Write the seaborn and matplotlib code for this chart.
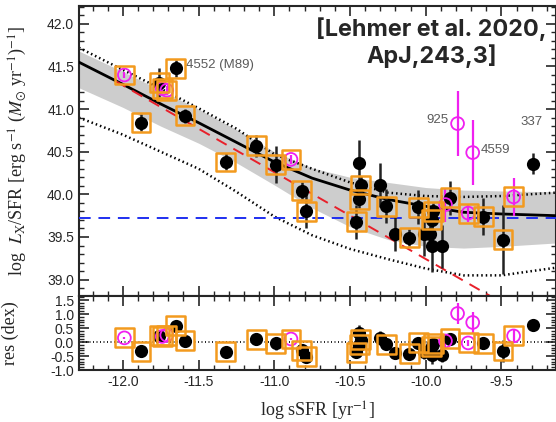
import numpy as np
import pandas as pd
import seaborn as sns
import matplotlib
matplotlib.use('Agg')
import matplotlib.pyplot as plt
from matplotlib.ticker import MultipleLocator, FormatStrFormatter

# galaxies: log sSFR, log Lx/SFR, error, residual, kind (K=black, M=magenta), boxed
gal_x = [-11.99, -11.88, -11.76, -11.74, -11.71, -11.65, -11.59, -11.32, -11.12, -10.99,
         -10.89, -10.82, -10.79, -10.44, -10.43, -10.44, -10.46, -10.30, -10.26, -10.20,
         -10.11, -10.05, -10.01, -9.97, -9.96, -9.89, -9.95, -9.96, -9.84, -9.87,
         -9.79, -9.69, -9.72, -9.62, -9.49, -9.42, -9.29]
gal_y = [41.40, 40.84, 41.31, 41.24, 41.22, 41.48, 40.92, 40.38, 40.57, 40.35,
         40.41, 40.04, 39.80, 40.37, 40.11, 39.94, 39.68, 40.11, 39.86, 39.53,
         39.49, 39.85, 39.53, 39.53, 39.39, 39.39, 39.80, 39.70, 39.96, 39.88,
         40.83, 40.49, 39.78, 39.74, 39.47, 39.97, 40.36]
gal_err = [0.03, 0.10, 0.17, 0.05, 0.05, 0.10, 0.08, 0.10, 0.13, 0.22,
           0.05, 0.10, 0.20, 0.27, 0.10, 0.10, 0.20, 0.26, 0.20, 0.20,
           0.10, 0.20, 0.25, 0.15, 0.30, 0.25, 0.10, 0.10, 0.20, 0.20,
           0.38, 0.38, 0.10, 0.22, 0.40, 0.22, 0.12]
gal_res = [0.15, -0.33, 0.22, 0.20, 0.25, 0.58, 0.05, -0.34, 0.10, -0.05,
           0.11, -0.30, -0.52, 0.33, 0.08, -0.10, -0.36, 0.15, -0.08, -0.40,
           -0.42, -0.02, -0.34, -0.33, -0.47, -0.45, -0.06, -0.15, 0.12, 0.04,
           1.02, 0.70, -0.03, -0.04, -0.32, 0.22, 0.60]
gal_kind = ['M', 'K', 'K', 'M', 'M', 'K', 'K', 'K', 'K', 'K',
            'M', 'K', 'K', 'K', 'K', 'K', 'K', 'K', 'K', 'K',
            'K', 'K', 'K', 'K', 'K', 'K', 'K', 'K', 'K', 'M',
            'M', 'M', 'M', 'K', 'K', 'M', 'K']
gal_box = [1, 1, 1, 1, 1, 1, 1, 1, 1, 1,
           1, 1, 1, 0, 1, 1, 1, 0, 1, 0,
           1, 1, 0, 0, 0, 0, 1, 1, 1, 0,
           0, 0, 1, 1, 1, 1, 0]

# curves
model_x = [-12.29, -12.0, -11.75, -11.5, -11.25, -11.0, -10.75, -10.5, -10.25, -10.0, -9.75, -9.5, -9.14]
model_y = [41.55, 41.29, 41.06, 40.84, 40.61, 40.38, 40.19, 40.05, 39.94, 39.86, 39.79, 39.77, 39.75]
band_lo = [41.25, 41.02, 40.80, 40.60, 40.37, 40.11, 39.84, 39.62, 39.47, 39.39, 39.37, 39.39, 39.43]
band_hi = [41.68, 41.44, 41.22, 41.00, 40.76, 40.50, 40.31, 40.20, 40.14, 40.08, 40.05, 40.04, 40.03]
dot_hi = [41.72, 41.46, 41.24, 41.01, 40.77, 40.47, 40.30, 40.14, 40.02, 39.98, 39.97, 39.98, 40.02]
dot_lo = [40.90, 40.70, 40.50, 40.30, 40.03, 39.74, 39.52, 39.36, 39.24, 39.13, 39.05, 39.05, 39.14]
lin_x = [-12.05, -9.40]
lin_y = [41.33, 38.63]
const_y = 39.72

gal = pd.DataFrame({'x': gal_x, 'y': gal_y, 'err': gal_err, 'res': gal_res,
                    'kind': gal_kind, 'box': gal_box})
curves = pd.DataFrame({'x': model_x, 'model': model_y, 'lo': band_lo, 'hi': band_hi,
                       'dhi': dot_hi, 'dlo': dot_lo})

sns.set_style('ticks')
plt.rcParams['font.family'] = ['Liberation Sans', 'DejaVu Sans']
plt.rcParams['mathtext.fontset'] = 'stix'

orange = '#f39a1e'
magenta = '#f020f0'

fig = plt.figure(figsize=(5.56, 4.22), dpi=100)
ax = fig.add_axes([0.142, 0.299, 0.858, 0.687])
axr = fig.add_axes([0.142, 0.123, 0.858, 0.176], sharex=ax)

ax.fill_between(curves.x, curves.lo, curves.hi, color='#cdcdcd', lw=0, zorder=1)
sns.lineplot(data=curves, x='x', y='dhi', ax=ax, color='k', lw=1.8, ls=(0, (0.6, 1.2)),
             sort=False, estimator=None, zorder=2)
sns.lineplot(data=curves, x='x', y='dlo', ax=ax, color='k', lw=1.8, ls=(0, (0.6, 1.2)),
             sort=False, estimator=None, zorder=2)
sns.lineplot(data=curves, x='x', y='model', ax=ax, color='k', lw=2.0,
             sort=False, estimator=None, zorder=3)
sns.lineplot(x=lin_x, y=lin_y, ax=ax, color='#e8202a', lw=1.4, ls=(0, (6, 4)), zorder=3)
ax.axhline(const_y, color='#1f2ff0', lw=1.4, ls=(0, (6, 4)), zorder=3)
axr.axhline(0, color='k', lw=1.2, ls=(0, (0.6, 1.5)), zorder=1)


def draw_points(a, ycol):
    blk = gal[gal.kind == 'K']
    mag = gal[gal.kind == 'M']
    box = gal[gal.box == 1]
    a.errorbar(blk.x, blk[ycol], yerr=blk.err, fmt='none', ecolor='#222222',
               elinewidth=1.8, capsize=0, zorder=4)
    a.errorbar(mag.x, mag[ycol], yerr=mag.err, fmt='none', ecolor=magenta,
               elinewidth=1.6, capsize=0, zorder=4)
    sns.scatterplot(data=blk, x='x', y=ycol, ax=a, color='k', s=90,
                    edgecolor='k', linewidth=0, zorder=5)
    sns.scatterplot(data=mag, x='x', y=ycol, ax=a, color=magenta, s=85,
                    facecolor='none', edgecolor=magenta, linewidth=1.3, zorder=5)
    sns.scatterplot(data=box, x='x', y=ycol, ax=a, color=orange, marker='s', s=185,
                    facecolor='none', edgecolor=orange, linewidth=1.8, zorder=6)


draw_points(ax, 'y')
draw_points(axr, 'res')

txt = dict(color='#5a5a5a', fontsize=9.5)
ax.text(-11.58, 41.52, '4552 (M89)', ha='left', va='center', **txt)
ax.text(-9.85, 40.87, '925', ha='right', va='center', **txt)
ax.text(-9.64, 40.52, '4559', ha='left', va='center', **txt)
ax.text(-9.30, 40.85, '337', ha='center', va='center', **txt)

fig.text(0.776, 0.90, '[Lehmer et al. 2020,\nApJ,243,3]', ha='center', va='center',
         fontsize=16.8, fontweight='bold',
         family=['Inter', 'DejaVu Sans'], linespacing=1.18)

ax.set_xlim(-12.29, -9.14)
ax.set_ylim(38.81, 42.21)
axr.set_ylim(-1.0, 1.65)

for a in (ax, axr):
    a.xaxis.set_major_locator(MultipleLocator(0.5))
    a.xaxis.set_minor_locator(MultipleLocator(0.1))
    a.yaxis.set_major_locator(MultipleLocator(0.5))
    a.yaxis.set_minor_locator(MultipleLocator(0.1))
    a.yaxis.set_major_formatter(FormatStrFormatter('%.1f'))
    a.tick_params(which='both', direction='in', top=True, right=True, labelsize=10)
    a.tick_params(which='major', length=7, width=1.2)
    a.tick_params(which='minor', length=3.5, width=1.0)
    for sp in a.spines.values():
        sp.set_linewidth(1.5)
        sp.set_visible(True)
axr.xaxis.set_major_formatter(FormatStrFormatter('%.1f'))
plt.setp(ax.get_xticklabels(), visible=False)

serif = dict(family=['Liberation Serif', 'DejaVu Serif'], fontsize=13)
ax.set_xlabel('')
ax.set_ylabel(r'log  $L_{\rm X}$/SFR [erg s$^{-1}$ ($M_{\odot}$ yr$^{-1}$)$^{-1}$]', **serif)
axr.set_ylabel('res (dex)', **serif)
axr.set_xlabel(r'log sSFR [yr$^{-1}$]', **serif)
ax.yaxis.set_label_coords(-0.105, 0.5)
axr.yaxis.set_label_coords(-0.125, 0.5)
axr.xaxis.set_label_coords(0.5, -0.40)

fig.savefig('out.png', dpi=100)
